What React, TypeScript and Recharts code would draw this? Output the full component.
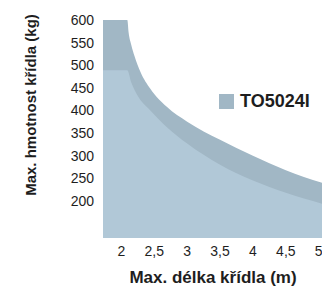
import React from 'react';
import { AreaChart, Area, XAxis, YAxis, Legend, Label } from 'recharts';

const xTicks = [2, 2.5, 3, 3.5, 4, 4.5, 5];
const yTicks = [200, 250, 300, 350, 400, 450, 500, 550, 600];

const upperLength = [1.72, 2.09, 2.11, 2.15, 2.2, 2.29, 2.44, 2.69, 3.0, 3.5, 4.0, 4.5, 5.05];
const upperLoad = [600, 600, 572, 545, 520, 485, 448, 408, 375, 335, 300, 268, 240];

const lowerLength = [1.72, 2.09, 2.15, 2.25, 2.44, 2.7, 3.0, 3.5, 4.0, 4.5, 5.05];
const lowerLoad = [489, 489, 462, 432, 400, 362, 327, 280, 245, 218, 194];

const upperData = upperLength.map((x, i) => ({ x, y: upperLoad[i] }));
const lowerData = lowerLength.map((x, i) => ({ x, y: lowerLoad[i] }));

const DARK = '#a1b7c5';
const LIGHT = '#b1c8d7';
const TEXT = '#1e1e1e';
const FONT = '"Liberation Sans", Arial, Helvetica, sans-serif';

const YTitle = () => (
  <text
    x={30}
    y={105}
    transform="rotate(-90 30 105)"
    textAnchor="middle"
    dominantBaseline="central"
    fontFamily={FONT}
    fontWeight="bold"
    fontSize={15}
    fill={TEXT}
  >
    Max. hmotnost křídla (kg)
  </text>
);

const XTitle = () => (
  <text
    x={213}
    y={277}
    textAnchor="middle"
    dominantBaseline="central"
    fontFamily={FONT}
    fontWeight="bold"
    fontSize={17}
    fill={TEXT}
  >
    Max. délka křídla (m)
  </text>
);

const LegendContent = (props: any) => {
  const items = (props.payload || []).filter((p: any) => p.value === 'TO5024I');
  return (
    <div style={{ fontFamily: FONT }}>
      {items.map((p: any) => (
        <div key={p.value} style={{ display: 'flex', alignItems: 'center' }}>
          <span style={{ display: 'inline-block', width: 15, height: 15, background: DARK, marginRight: 6 }} />
          <span style={{ fontWeight: 'bold', fontSize: 18, color: TEXT, lineHeight: '18px' }}>{p.value}</span>
        </div>
      ))}
    </div>
  );
};

export default function App() {
  return (
    <div style={{ position: 'fixed', left: 0, top: 0, width: 322, height: 288, background: '#fff' }}>
      <AreaChart width={322} height={288} margin={{ top: 20, right: 0, bottom: 0, left: 0 }}>
        <XAxis
          dataKey="x"
          type="number"
          domain={[1.72, 5.05]}
          allowDataOverflow
          ticks={xTicks}
          interval={0}
          axisLine={false}
          tickLine={false}
          tickSize={0}
          tickMargin={8}
          height={50}
          tick={{ fontSize: 14, fill: TEXT, fontFamily: FONT }}
          tickFormatter={(v: number) => String(v).replace('.', ',')}
        >
          <Label content={<XTitle />} />
        </XAxis>
        <YAxis
          type="number"
          domain={[118, 600]}
          allowDataOverflow
          ticks={yTicks}
          interval={0}
          axisLine={false}
          tickLine={false}
          tickSize={0}
          tickMargin={9}
          width={103}
          tick={{ fontSize: 14, fill: TEXT, fontFamily: FONT }}
        >
          <Label content={<YTitle />} />
        </YAxis>
        <Legend
          layout="horizontal"
          align="center"
          verticalAlign="middle"
          content={<LegendContent />}
          wrapperStyle={{ position: 'absolute', left: 219, top: 92, width: 'auto' }}
        />
        <Area
          data={upperData}
          dataKey="y"
          name="TO5024I"
          type="monotone"
          fill={DARK}
          fillOpacity={1}
          stroke="none"
          isAnimationActive={false}
        />
        <Area
          data={lowerData}
          dataKey="y"
          name="lower"
          type="monotone"
          fill={LIGHT}
          fillOpacity={1}
          stroke="none"
          legendType="none"
          isAnimationActive={false}
        />
      </AreaChart>
    </div>
  );
}
